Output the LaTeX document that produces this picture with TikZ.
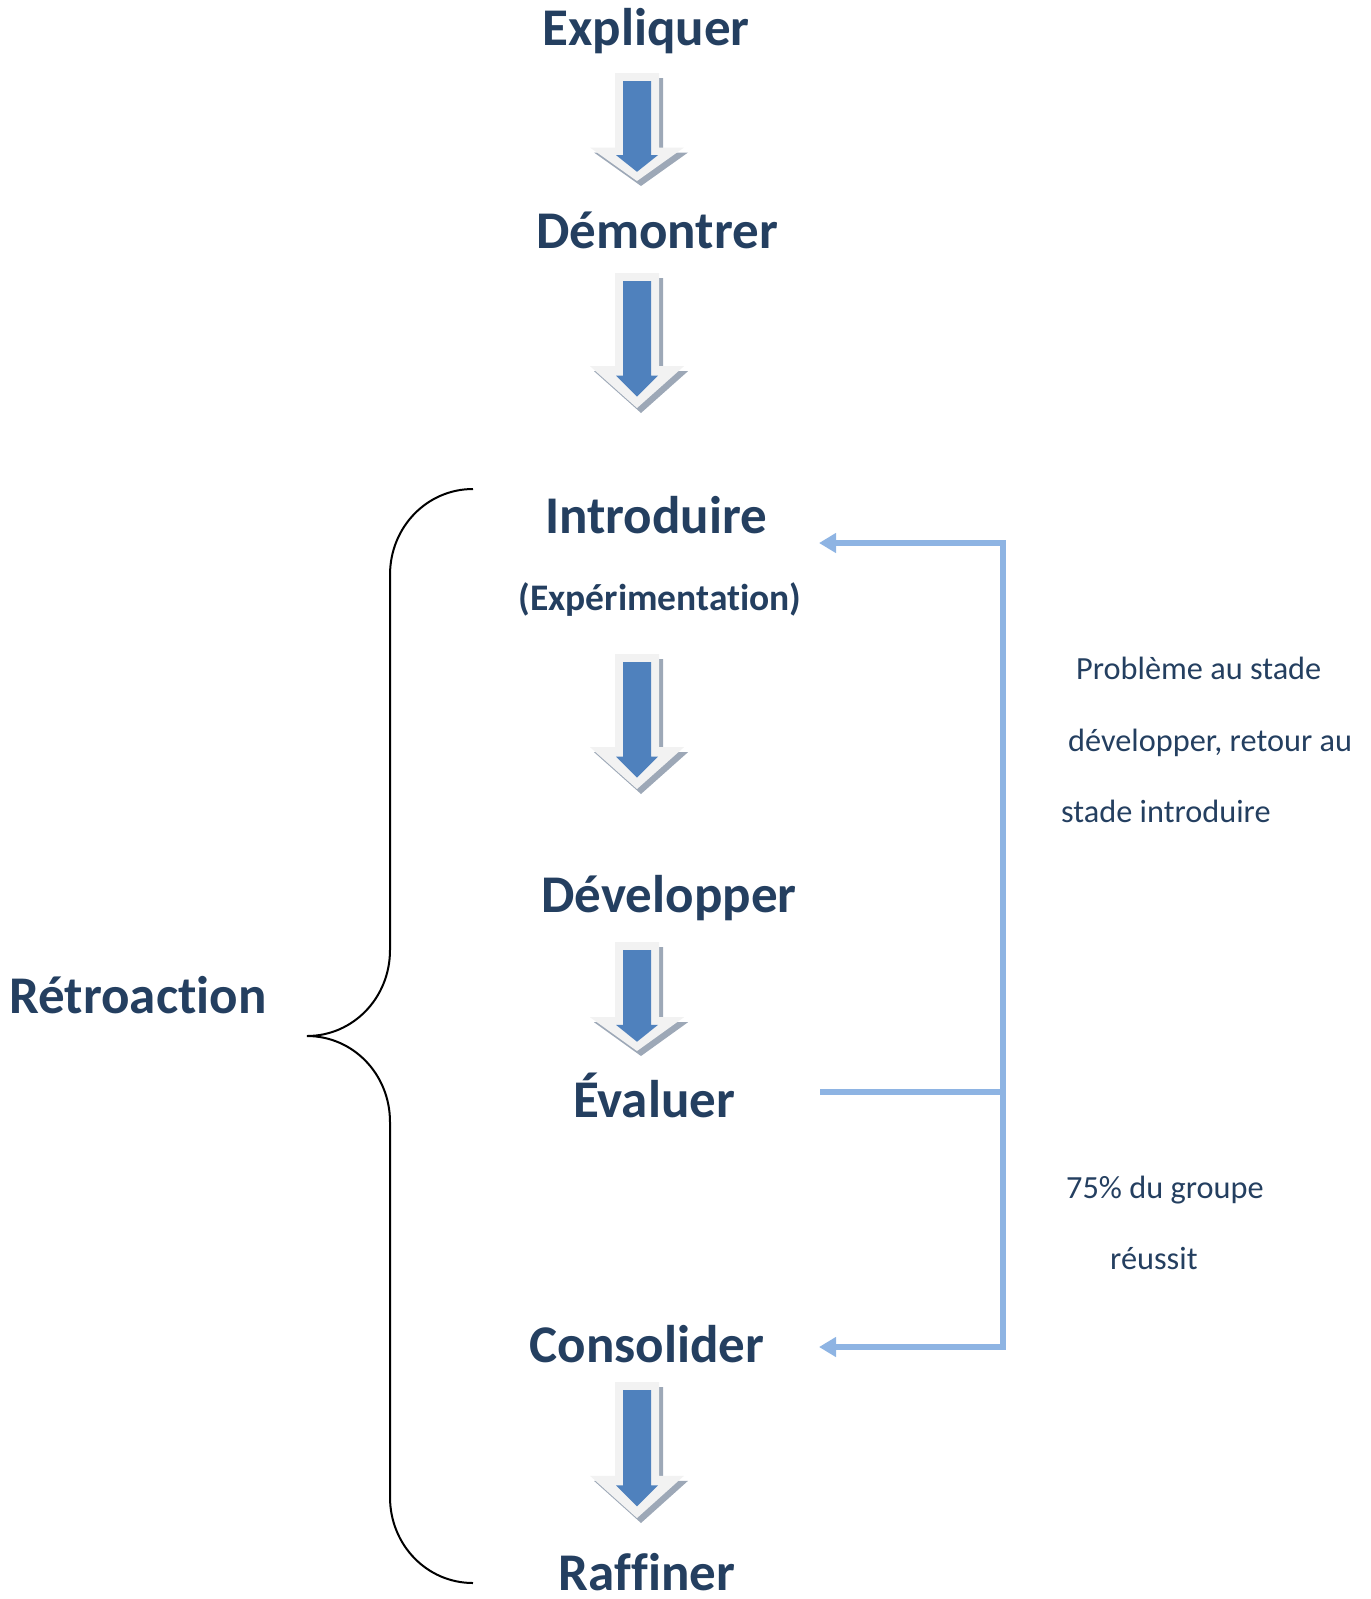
\documentclass[tikz,border=0pt]{standalone}
\usepackage{fontspec}
\setmainfont{Carlito}[Ligatures=NoCommon]
\usetikzlibrary{arrows.meta}
\definecolor{navy}{HTML}{243F60}
\definecolor{fbblue}{HTML}{8EB4E3}
\definecolor{arrfill}{HTML}{F2F2F2}
\definecolor{arrshadow}{HTML}{9DA8B7}
\definecolor{arrblue}{HTML}{4F81BD}
\newcommand\blockarr[3]{%
  \begin{scope}[shift={(#1,#2)}]
    \fill[arrshadow] (-18,5) -- (26,5) -- (26,{0.69*#3+5}) -- (51,{0.69*#3+5}) -- (4,{#3+5}) -- (-43,{0.69*#3+5}) -- (-18,{0.69*#3+5}) -- cycle;
    \fill[arrfill] (-22,0) -- (22,0) -- (22,{0.69*#3}) -- (47,{0.69*#3}) -- (0,{#3}) -- (-47,{0.69*#3}) -- (-22,{0.69*#3}) -- cycle;
    \fill[arrblue] (-14,8) -- (14,8) -- (14,{0.76*#3}) -- (21,{0.76*#3}) -- (0,{0.915*#3}) -- (-21,{0.76*#3}) -- (-14,{0.76*#3}) -- cycle;
  \end{scope}}
\begin{document}
\begin{tikzpicture}[x=1pt,y=-1pt,
  stage/.style={anchor=base,inner sep=0pt,text=navy,font=\fontsize{53}{60}\selectfont\bfseries},
  sub/.style={anchor=base,inner sep=0pt,text=navy,font=\fontsize{37.5}{44}\selectfont\bfseries},
  note/.style={anchor=base west,inner sep=0pt,text=navy,font=\fontsize{32.3}{38}\selectfont},
  fb/.style={draw=fbblue,line width=6pt},
  fbarrow/.style={fb,-{Triangle[length=17pt,width=19pt]}},
  brace/.style={draw=black,line width=2pt}]
\useasboundingbox (0,0) rectangle (1371,1599);
% stages
\node[stage] (expl) at (646,45) {Expliquer};
\node[stage] (demo) at (657,248) {Démontrer};
\node[stage] (intro) at (656,533) {Introduire};
\node[sub] (exper) at (660,610) {(Expérimentation)};
\node[stage] (dev) at (669,912) {Développer};
\node[stage] (eval) at (654,1117) {Évaluer};
\node[stage] (cons) at (647,1362) {Consolider};
\node[stage,text depth=0pt] (raff) at (647,1590) {Raffiner};
\node[stage] (retro) at (138,1013) {Rétroaction};
% block arrows
\blockarr{637}{73}{108}
\blockarr{637}{273}{135}
\blockarr{637}{654}{135}
\blockarr{637}{942}{109}
\blockarr{637}{1382}{136}
% brace
\coordinate (bTop) at (473,489);
\coordinate (bTip) at (307,1036);
\coordinate (bBot) at (473,1583);
\draw[brace] (bTop) .. controls (427,489) and (390,527) .. (390,575)
  -- (390,950) .. controls (390,998) and (353,1036) .. (bTip)
  .. controls (353,1036) and (390,1074) .. (390,1122)
  -- (390,1497) .. controls (390,1545) and (427,1583) .. (bBot);
% feedback connector
\coordinate (cI) at (819,543);
\coordinate (cE) at (820,1092);
\coordinate (cC) at (819,1347);
\coordinate (jE) at (1003,1092);
\draw[fb] (cE) -- (jE);
\draw[fbarrow] (jE) |- (cI);
\draw[fbarrow] (jE) |- (cC);
% notes
\node[note] (n1) at (1076,679) {Problème au stade};
\node[note] (n2) at (1068,751) {développer, retour au};
\node[note] (n3) at (1061,822) {stade introduire};
\node[note] (n4) at (1066,1198) {75\% du groupe};
\node[note] (n5) at (1110,1269) {réussit};
\end{tikzpicture}
\end{document}
